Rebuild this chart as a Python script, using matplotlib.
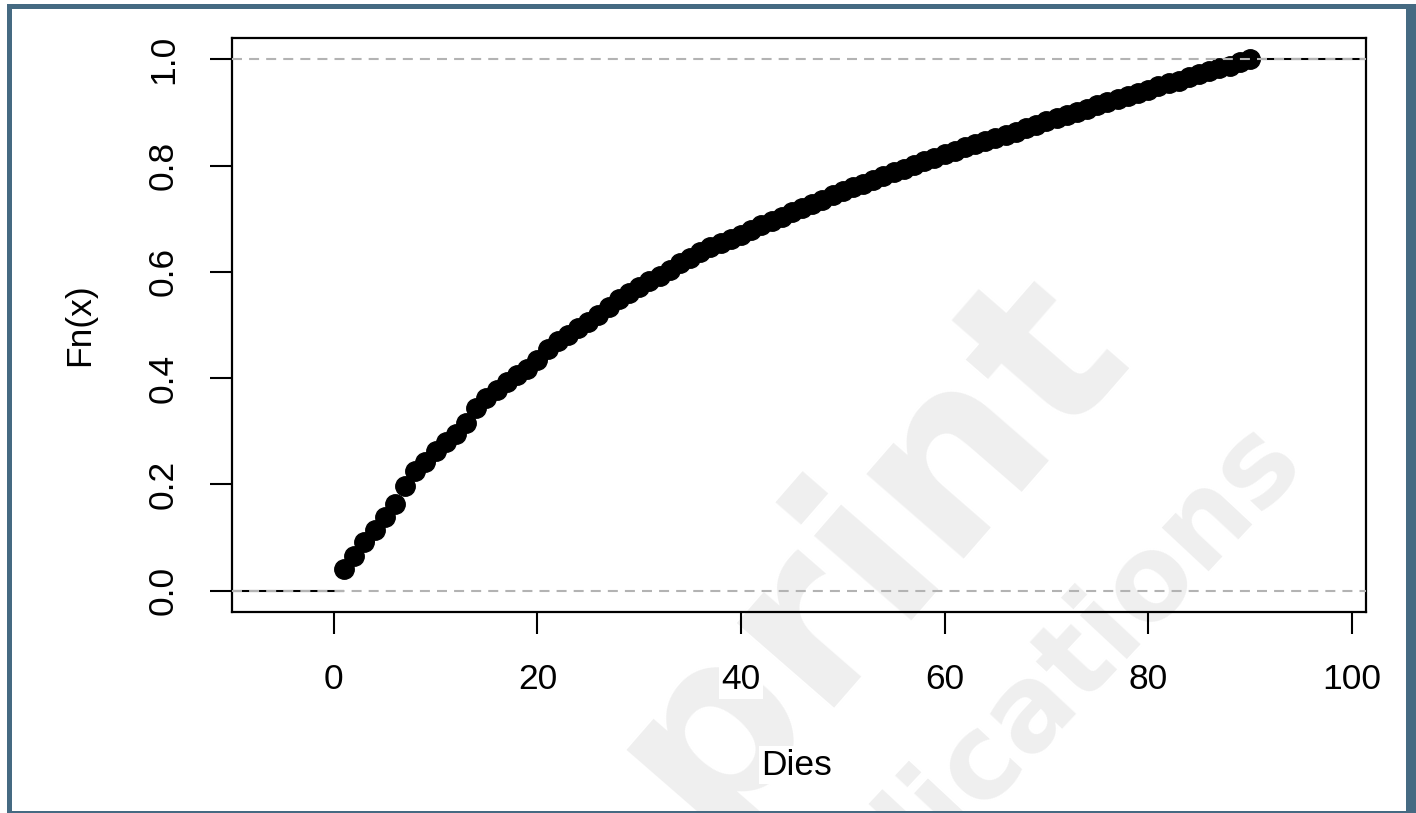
import matplotlib
matplotlib.use("Agg")
import matplotlib.pyplot as plt
from matplotlib.patches import Rectangle

# Empirical cumulative distribution of the number of days
days = list(range(1, 91))
fn = [
    0.040, 0.065, 0.092, 0.115, 0.138, 0.163, 0.198, 0.225, 0.243, 0.262,
    0.279, 0.295, 0.315, 0.343, 0.363, 0.378, 0.392, 0.405, 0.418, 0.435,
    0.455, 0.470, 0.482, 0.494, 0.506, 0.518, 0.533, 0.548, 0.560, 0.572,
    0.582, 0.593, 0.604, 0.616, 0.627, 0.637, 0.646, 0.654, 0.662, 0.670,
    0.679, 0.688, 0.696, 0.704, 0.712, 0.720, 0.728, 0.736, 0.744, 0.752,
    0.759, 0.766, 0.773, 0.780, 0.787, 0.794, 0.801, 0.808, 0.815, 0.822,
    0.828, 0.834, 0.840, 0.846, 0.852, 0.858, 0.864, 0.870, 0.876, 0.883,
    0.889, 0.895, 0.901, 0.907, 0.913, 0.919, 0.925, 0.931, 0.937, 0.943,
    0.949, 0.955, 0.960, 0.966, 0.972, 0.977, 0.983, 0.988, 0.994, 1.000,
]

x_ticks = [0, 20, 40, 60, 80, 100]
x_tick_labels = ["0", "20", "40", "60", "80", "100"]
y_ticks = [0.0, 0.2, 0.4, 0.6, 0.8, 1.0]
y_tick_labels = ["0.0", "0.2", "0.4", "0.6", "0.8", "1.0"]
x_label = "Dies"
y_label = "Fn(x)"
x_limits = (-10.0, 101.4)
y_limits = (-0.04, 1.04)

plt.rcParams['font.family'] = ['Liberation Sans', 'DejaVu Sans']

W, H = 1416, 813
fig = plt.figure(figsize=(W / 100, H / 100), dpi=100)
fig.patch.set_facecolor('white')


def fx(px):
    return px / W


def fy(py):
    return 1 - py / H


# outer frame
frame_color = '#456a82'
for x0, y0, x1, y1 in [(7, 4, 1416, 9), (7, 4, 12, 813),
                       (1406, 4, 1416, 813), (7, 811, 1416, 813)]:
    fig.add_artist(Rectangle((fx(x0), fy(y1)), fx(x1) - fx(x0), fy(y0) - fy(y1),
                             transform=fig.transFigure, facecolor=frame_color,
                             edgecolor='none', zorder=5))

# faint background watermark
wm_color = '#efefef'
fig.text(fx(868), fy(548), "print", fontsize=170, fontweight='bold',
         family='DejaVu Sans', color=wm_color, rotation=49,
         rotation_mode='anchor', ha='center', va='center', zorder=-1)
fig.text(fx(1090), fy(640), "lications", fontsize=84, fontweight='bold',
         family='DejaVu Sans', color=wm_color, rotation=47,
         rotation_mode='anchor', ha='center', va='center', zorder=-1)

ax = fig.add_axes([fx(232), fy(612), fx(1366) - fx(232), fy(38) - fy(612)])
ax.set_facecolor('none')
ax.set_xlim(*x_limits)
ax.set_ylim(*y_limits)

# step segments of the ECDF
ax.hlines(fn[:-1], days[:-1], days[1:], color='black', lw=1.5, zorder=2)
ax.hlines(0, x_limits[0], days[0], color='black', lw=1.5, zorder=2)
ax.hlines(1, days[-1], x_limits[1], color='black', lw=1.5, zorder=2)
ax.plot(days, fn, 'o', ms=14, color='black', zorder=3)

# reference lines at 0 and 1
for level in (0, 1):
    ax.axhline(level, color='#b3b3b3', lw=1.5, ls=(0, (4.8, 3.4)), zorder=4)

for s in ax.spines.values():
    s.set_linewidth(1.6)
    s.set_color('black')

ax.set_xticks(x_ticks)
ax.set_xticklabels(x_tick_labels)
ax.set_yticks(y_ticks)
ax.set_yticklabels(y_tick_labels)
ax.tick_params(axis='both', direction='out', length=15.5, width=1.5,
               labelsize=25.5, colors='black')
ax.tick_params(axis='x', pad=21)
ax.tick_params(axis='y', pad=22, labelrotation=90)
for lab in ax.get_yticklabels():
    lab.set_va('center')
for lab in ax.get_xticklabels() + ax.get_yticklabels():
    lab.set_bbox(dict(facecolor='white', edgecolor='none', pad=2))

ax.set_xlabel(x_label, fontsize=25.5)
ax.xaxis.set_label_coords((797 - 232) / 1134, (612 - 765) / 574)
ax.xaxis.label.set_va('center')
ax.xaxis.label.set_bbox(dict(facecolor='white', edgecolor='none', pad=2))
ax.set_ylabel(y_label, fontsize=25.5)
ax.yaxis.set_label_coords((80 - 232) / 1134, 0.5)
ax.yaxis.label.set_va('center')

fig.savefig("out.png", dpi=100, facecolor='white')
